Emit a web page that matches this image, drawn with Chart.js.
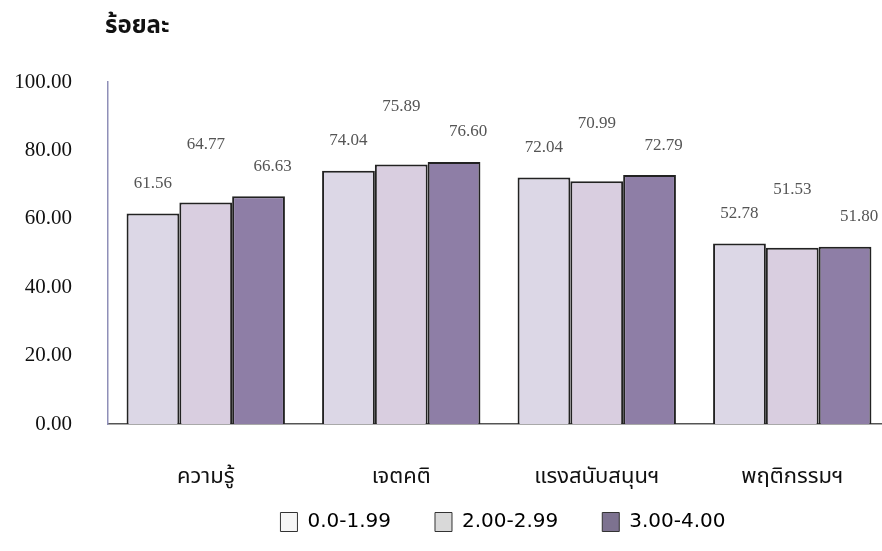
<!DOCTYPE html>
<html>
<head>
<meta charset="utf-8">
<script src="https://cdn.jsdelivr.net/npm/chart.js@4.4.0/dist/chart.umd.min.js"></script>
<style>
  html, body { margin: 0; padding: 0; background: #fff; overflow: hidden; }
  #wrap { width: 890px; height: 551px; }
</style>
</head>
<body>
<div id="wrap"><canvas id="barChart"></canvas></div>
<script>
// chart data
const categories = ['ความรู้', 'เจตคติ', 'แรงสนับสนุนฯ', 'พฤติกรรมฯ'];
const seriesNames = ['0.0-1.99', '2.00-2.99', '3.00-4.00'];
const lowGroup = [61.56, 74.04, 72.04, 52.78];
const midGroup = [64.77, 75.89, 70.99, 51.53];
const highGroup = [66.63, 76.60, 72.79, 51.80];
const yTicks = [0, 20, 40, 60, 80, 100];

const barColors = ['#dcd7e6', '#d9cee0', '#8e7ea6'];
const legendColors = ['#f6f6f6', '#d9d9d9', '#7d7290'];
const thaiFont = "'Noto Sans Thai', 'Loma', 'Tahoma', 'DejaVu Sans', sans-serif";

// value labels above bars, staggered like the original
const labelOffsets = [{ dx: 0, dy: 30 }, { dx: 0, dy: 58 }, { dx: 14, dy: 30 }];

const valueLabels = {
    id: 'valueLabels',
    afterDatasetsDraw(chart) {
        const ctx = chart.ctx;
        ctx.save();
        ctx.font = "17px 'Liberation Serif', serif";
        ctx.fillStyle = '#555';
        ctx.textAlign = 'center';
        ctx.textBaseline = 'middle';
        chart.data.datasets.forEach((ds, i) => {
            chart.getDatasetMeta(i).data.forEach((bar, j) => {
                const off = labelOffsets[i];
                ctx.fillText(ds.data[j].toFixed(2), bar.x + off.dx, bar.y - off.dy);
            });
        });
        ctx.restore();
    }
};

const unitTitle = {
    id: 'unitTitle',
    afterDraw(chart) {
        const ctx = chart.ctx;
        ctx.save();
        ctx.font = "bold 24px " + thaiFont;
        ctx.fillStyle = '#111';
        ctx.textBaseline = 'middle';
        ctx.fillText('ร้อยละ', 105, 28);
        ctx.restore();
    }
};

// the legend in the original sits right of centre
const legendShift = {
    id: 'legendShift',
    afterLayout(chart) {
        chart.legend.left += 58;
        chart.legend.right += 58;
    }
};

const ctx = document.getElementById('barChart').getContext('2d');
new Chart(ctx, {
    type: 'bar',
    data: {
        labels: categories,
        datasets: [
            { label: seriesNames[0], data: lowGroup, backgroundColor: barColors[0] },
            { label: seriesNames[1], data: midGroup, backgroundColor: barColors[1] },
            { label: seriesNames[2], data: highGroup, backgroundColor: barColors[2] }
        ].map(ds => Object.assign(ds, {
            borderColor: '#222',
            borderWidth: 2,
            borderSkipped: 'bottom',
            categoryPercentage: 0.81,
            barPercentage: 1.0
        }))
    },
    options: {
        responsive: true,
        maintainAspectRatio: false,
        animation: false,
        layout: { padding: { top: 82, right: 0, left: 0, bottom: 9 } },
        scales: {
            x: {
                grid: { display: false, drawTicks: false },
                border: { color: '#555', width: 1.5 },
                afterFit: axis => { axis.height = 44; },
                // don't clip the Thai vowels that hang below the axis box
                afterUpdate: axis => { axis._computeLabelArea = () => null; },
                ticks: {
                    padding: 41,
                    color: '#111',
                    font: { family: thaiFont, size: 22 }
                }
            },
            y: {
                min: 0,
                max: 100,
                afterBuildTicks: axis => { axis.ticks = yTicks.map(v => ({ value: v })); },
                afterFit: axis => { axis.width = 108; },
                grid: { display: false, drawTicks: false },
                border: { color: '#8f8fb8', width: 1.5 },
                ticks: {
                    padding: 36,
                    color: '#111',
                    font: { family: "'Liberation Serif', serif", size: 21 },
                    callback: v => v.toFixed(2)
                }
            }
        },
        plugins: {
            legend: {
                position: 'bottom',
                labels: {
                    boxWidth: 17,
                    boxHeight: 19,
                    padding: 44,
                    color: '#111',
                    font: { family: "'DejaVu Sans', sans-serif", size: 20 },
                    generateLabels: chart => chart.data.datasets.map((ds, i) => ({
                        text: ds.label,
                        fillStyle: legendColors[i],
                        strokeStyle: '#333',
                        lineWidth: 1,
                        datasetIndex: i
                    }))
                }
            },
            tooltip: { enabled: false }
        }
    },
    plugins: [valueLabels, unitTitle, legendShift]
});
</script>
</body>
</html>
